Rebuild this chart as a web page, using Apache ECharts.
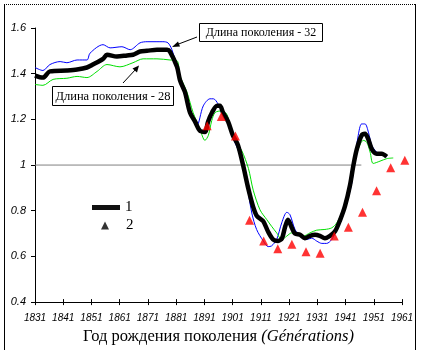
<!DOCTYPE html>
<html>
<head>
<meta charset="utf-8">
<script src="https://cdn.jsdelivr.net/npm/echarts@6/dist/echarts.min.js"></script>
<style>
html,body{margin:0;padding:0;background:#fff;}
#c{width:421px;height:350px;}
</style>
</head>
<body>
<div id="c"></div>
<script>
// Years are calendar years; axis counts from the first tick year
const firstYear = 1831;
const lastYear = 1961;
const tickStep = 10;
const yTicks = [0.4, 0.6, 0.8, 1, 1.2, 1.4, 1.6];

// Series 1 (thick black)
const blackYears = [1831,1833.8,1836.3,1842.3,1845.9,1849.4,1851.5,1855.1,1856.5,1860,1863.6,1865.7,1868.2,1870.7,1874.2,1877.8,1878.8,1881.3,1882.4,1884.1,1885.9,1887.7,1889.4,1891.2,1892.3,1893.7,1895.5,1896.5,1897.6,1899.4,1901.1,1902.9,1904.7,1906.5,1908.2,1909.6,1911.8,1913.5,1915.3,1917.1,1918.5,1919.6,1920.6,1922,1923.1,1924.9,1926.6,1928.4,1930.2,1931.9,1933.7,1935.5,1937.3,1939,1940.8,1942.6,1943.8,1945,1946.7,1947.9,1949,1950.3,1952,1953.8,1955.6];
const blackVals = [1.392,1.383,1.41,1.414,1.418,1.427,1.44,1.465,1.483,1.475,1.48,1.483,1.497,1.5,1.505,1.505,1.497,1.43,1.37,1.32,1.23,1.19,1.15,1.145,1.19,1.23,1.26,1.26,1.23,1.19,1.13,1.087,1.0,0.9,0.82,0.777,0.755,0.71,0.675,0.668,0.68,0.73,0.76,0.725,0.70,0.695,0.68,0.69,0.695,0.69,0.68,0.69,0.71,0.757,0.82,0.913,1.0,1.07,1.13,1.137,1.115,1.07,1.05,1.05,1.037];

// Generation length 32 (blue)
const blueYears = [1831,1833.8,1836.3,1839.9,1842.3,1845.9,1849.4,1850.5,1855.1,1857.6,1861.8,1864.7,1868.2,1870.7,1874.2,1876.3,1878.1,1879.5,1881.3,1883.1,1885.9,1888.3,1890.6,1893,1894.2,1895.9,1898.3,1900.7,1903,1905.4,1907.8,1909.5,1911.9,1913.6,1914.8,1916.6,1918.4,1920.2,1921.3,1923.1,1924.9,1927.2,1929,1930.8,1932.6,1934.3,1936.1,1937.9,1939.6,1941.4,1943.2,1944,1945.5,1946.7,1947.9,1949.1,1950.3,1952,1953.8,1955.6];
const blueVals = [1.427,1.414,1.44,1.453,1.448,1.46,1.46,1.49,1.527,1.513,1.518,1.505,1.535,1.54,1.54,1.54,1.535,1.505,1.43,1.345,1.23,1.172,1.259,1.29,1.29,1.267,1.216,1.13,1.064,0.956,0.79,0.718,0.667,0.643,0.646,0.674,0.747,0.793,0.783,0.718,0.689,0.674,0.68,0.667,0.657,0.657,0.674,0.718,0.761,0.833,0.92,1.0,1.13,1.18,1.18,1.144,1.086,1.057,1.046,1.036];

// Generation length 28 (green)
const greenYears = [1831,1833.8,1837.4,1842.3,1845.9,1849.4,1853,1856.5,1861.1,1865.7,1869.3,1874.2,1878.8,1881.3,1882.4,1884.8,1887,1889.4,1891.2,1892.4,1893.6,1894.8,1897.1,1898.9,1900.1,1901.8,1904.2,1906.6,1908.3,1910.7,1913.1,1914.8,1916.6,1918.4,1920.2,1921.9,1923.7,1926,1928.4,1930.8,1933.7,1936.1,1937.9,1939.6,1941.4,1943.2,1943.8,1945.5,1947.3,1948.5,1949.7,1950.8,1953.2,1955.6,1957.9];
const greenVals = [1.353,1.349,1.375,1.38,1.388,1.383,1.41,1.44,1.43,1.448,1.465,1.465,1.46,1.457,1.39,1.32,1.23,1.158,1.108,1.13,1.194,1.23,1.237,1.223,1.172,1.108,1.064,0.985,0.89,0.804,0.761,0.732,0.703,0.674,0.689,0.703,0.696,0.689,0.703,0.715,0.718,0.725,0.747,0.79,0.848,0.934,1.0,1.07,1.108,1.10,1.057,1.007,1.017,1.028,1.031];

// Series 2 (red triangles)
const triYears = [1892,1897,1902,1907,1912,1917,1922,1927,1932,1937,1942,1947,1952,1957,1962];
const triVals = [1.172,1.213,1.127,0.758,0.667,0.634,0.653,0.62,0.614,0.689,0.728,0.793,0.887,0.988,1.021];

// Reference level
const refYears = [1831, 1946.6];
const refVals = [1, 1];

const label32 = 'Длина поколения - 32';
const label28 = 'Длина поколения - 28';
const axisTitle = 'Год рождения поколения ';
const axisTitleIt = '(Générations)';

const toPts = (ys, vs) => ys.map((y, i) => [y - firstYear, vs[i]]);

const chart = echarts.init(document.getElementById('c'), null, {renderer: 'canvas'});
const serif = '"Liberation Serif", "Times New Roman", serif';
const sans = '"Liberation Sans", Arial, sans-serif';

chart.setOption({
  animation: false,
  backgroundColor: '#fff',
  grid: {left: 35, right: 19, top: 28, bottom: 45},
  xAxis: [{
    type: 'value', min: 0, max: lastYear - firstYear, interval: tickStep,
    axisLine: {lineStyle: {color: '#000', width: 1}},
    axisTick: {length: 3, lineStyle: {color: '#000'}},
    splitLine: {show: false},
    axisLabel: {color: '#000', fontFamily: sans, fontStyle: 'italic', fontSize: 10, margin: 11,
      formatter: v => String(v + firstYear)},
    name: '{a|' + axisTitle + '}{b|' + axisTitleIt + '}',
    nameLocation: 'middle', nameGap: 23,
    nameTextStyle: {rich: {
      a: {fontFamily: serif, fontSize: 16.5, color: '#000'},
      b: {fontFamily: serif, fontSize: 16.5, fontStyle: 'italic', color: '#000'}
    }}
  }, {
    type: 'value', position: 'bottom', min: 0, max: lastYear - firstYear, interval: tickStep,
    axisLine: {show: false},
    axisTick: {inside: true, length: 3, lineStyle: {color: '#000'}},
    axisLabel: {show: false}, splitLine: {show: false}
  }],
  yAxis: {
    type: 'value', min: yTicks[0], max: yTicks[yTicks.length - 1], interval: 0.2,
    axisLine: {show: true, lineStyle: {color: '#000', width: 1}},
    axisTick: {show: true, length: 4, lineStyle: {color: '#000'}},
    splitLine: {show: false},
    axisLabel: {color: '#000', fontFamily: sans, fontStyle: 'italic', fontSize: 11, margin: 9,
      formatter: v => String(Math.round(v * 10) / 10)}
  },
  legend: [{
    left: 92, top: 200, padding: 0, orient: 'vertical', itemWidth: 28, itemHeight: 5,
    data: [{name: '1', icon: 'rect', itemStyle: {color: '#111'}}],
    textStyle: {fontFamily: serif, fontSize: 15, color: '#000'}
  }, {
    left: 101, top: 218, padding: 0, orient: 'vertical', itemWidth: 8, itemHeight: 8,
    data: [{name: '2', icon: 'triangle', itemStyle: {color: '#000'}}],
    textStyle: {fontFamily: serif, fontSize: 15, color: '#000', padding: [0, 0, 0, 12]}
  }],
  series: [
    {type: 'line', name: 'ref', data: toPts(refYears, refVals), symbol: 'none',
     lineStyle: {color: '#808080', width: 1}, silent: true, z: 1},
    {type: 'line', name: '32', data: toPts(blueYears, blueVals), symbol: 'none', smooth: 0.3,
     lineStyle: {color: '#0000ff', width: 1}, z: 2},
    {type: 'line', name: '28', data: toPts(greenYears, greenVals), symbol: 'none', smooth: 0.3,
     lineStyle: {color: '#00e000', width: 1}, z: 2},
    {type: 'line', name: '1', data: toPts(blackYears, blackVals), symbol: 'none', smooth: 0.3,
     lineStyle: {color: '#000', width: 4.5}, itemStyle: {color: '#000'}, z: 3},
    {type: 'scatter', name: '2', data: toPts(triYears, triVals), symbol: 'triangle', symbolSize: 9,
     itemStyle: {color: '#ff0000'}, clip: false, z: 4}
  ],
  graphic: [
    {type: 'line', shape: {x1: 4.5, y1: 4, x2: 4.5, y2: 350}, style: {stroke: '#000', lineWidth: 1}},
    {type: 'line', shape: {x1: 415.5, y1: 4, x2: 415.5, y2: 350}, style: {stroke: '#000', lineWidth: 1}},
    {type: 'line', shape: {x1: 4, y1: 4.5, x2: 416, y2: 4.5}, style: {stroke: '#000', lineWidth: 1, lineDash: [1, 1]}},
    // annotation 32
    {type: 'rect', shape: {x: 199.5, y: 23.5, width: 123, height: 18}, style: {fill: '#fff', stroke: '#000', lineWidth: 1}, z: 10},
    {type: 'text', x: 261, y: 33, style: {text: label32, font: '12px ' + serif, fill: '#000', align: 'center', verticalAlign: 'middle'}, z: 11},
    {type: 'line', shape: {x1: 197, y1: 37, x2: 176, y2: 45}, style: {stroke: '#000', lineWidth: 1}, z: 10},
    {type: 'polygon', shape: {points: [[172, 47], [178, 41.5], [180, 46.5]]}, style: {fill: '#000'}, z: 10},
    // annotation 28
    {type: 'rect', shape: {x: 52.5, y: 86.5, width: 121, height: 19}, style: {fill: '#fff', stroke: '#000', lineWidth: 1}, z: 10},
    {type: 'text', x: 113, y: 96.5, style: {text: label28, font: '12.5px ' + serif, fill: '#000', align: 'center', verticalAlign: 'middle'}, z: 11},
    {type: 'line', shape: {x1: 123, y1: 83, x2: 136, y2: 69}, style: {stroke: '#000', lineWidth: 1}, z: 10},
    {type: 'polygon', shape: {points: [[139, 65.5], [132.5, 68.5], [137, 72.5]]}, style: {fill: '#000'}, z: 10}
  ]
});
</script>
</body>
</html>
